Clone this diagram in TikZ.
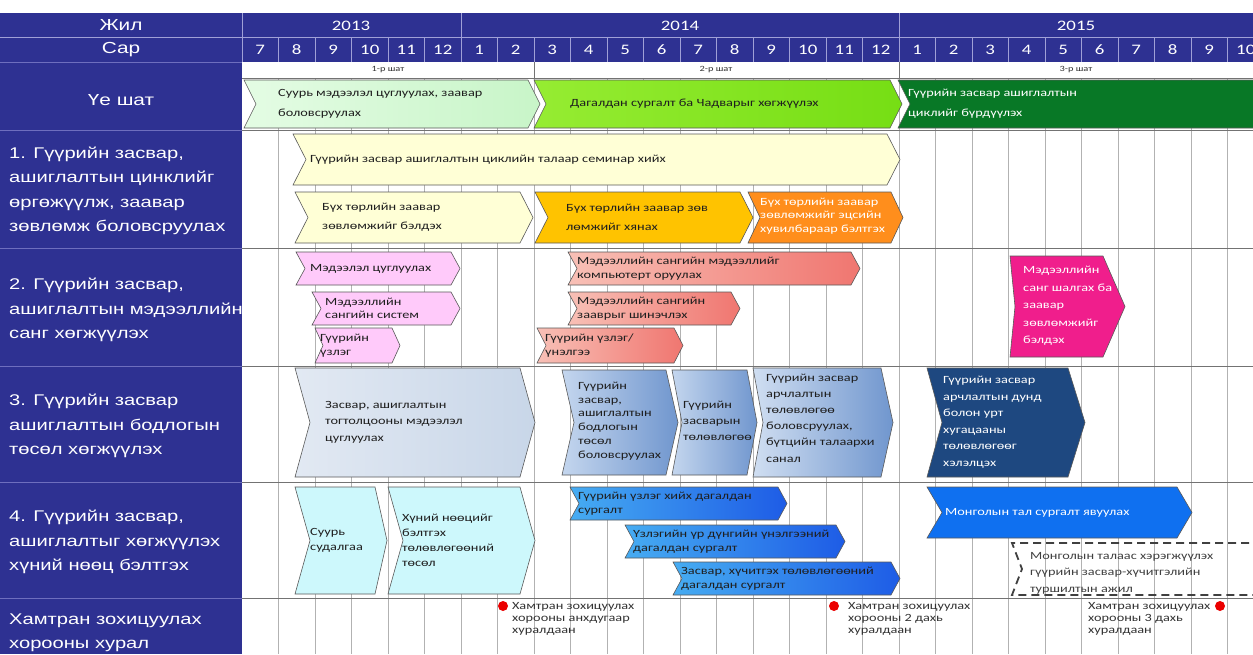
\documentclass[tikz,border=0pt]{standalone}
\usepackage{fontspec}
\setmainfont[FakeStretch=1.3]{Carlito}
\newfontfamily\ari[FakeStretch=1.3]{Liberation Sans}
\definecolor{hb}{RGB}{46,49,146}
\definecolor{hline}{RGB}{160,160,215}
\definecolor{lline}{RGB}{110,110,190}
\definecolor{lgA}{RGB}{228,252,228}
\definecolor{lgB}{RGB}{200,245,200}
\definecolor{bgA}{RGB}{150,236,50}
\definecolor{bgB}{RGB}{118,222,20}
\definecolor{dgr}{RGB}{8,120,38}
\definecolor{pyel}{RGB}{255,255,214}
\definecolor{gold}{RGB}{255,195,0}
\definecolor{orng}{RGB}{255,142,28}
\definecolor{pnk}{RGB}{255,202,250}
\definecolor{slA}{RGB}{248,192,182}
\definecolor{slB}{RGB}{240,118,112}
\definecolor{mag}{RGB}{240,30,140}
\definecolor{lbA}{RGB}{226,233,243}
\definecolor{lbB}{RGB}{200,214,232}
\definecolor{mbA}{RGB}{196,214,238}
\definecolor{mbB}{RGB}{112,150,206}
\definecolor{navy}{RGB}{30,72,128}
\definecolor{cyn}{RGB}{205,248,252}
\definecolor{buA}{RGB}{70,172,242}
\definecolor{buB}{RGB}{30,92,230}
\definecolor{bsol}{RGB}{15,112,240}
\newcommand\chv[7]{\path[#7] (#1,#3) -- ({#2-#6},#3) -- (#2,{(#3+#4)/2}) -- ({#2-#6},#4) -- (#1,#4) -- ({#1+#5},{(#3+#4)/2}) -- cycle;}
\newcommand\ls[1]{\fontsize{11}{#1}\selectfont}
\begin{document}
\begin{tikzpicture}[x=1pt,y=-1pt,
 chb/.style={draw=black!65,line width=0.6pt},
 tx/.style={anchor=west,align=left,inner sep=0pt,text=black!88,font=\ls{13.5}},
 txw/.style={tx,text=white},
 lab/.style={anchor=west,align=left,inner sep=0pt,text=white,font=\ari\fontsize{15.5}{24.5}\selectfont},
 hd/.style={inner sep=0pt,text=white,font=\ari\fontsize{16}{18}\selectfont},
 mon/.style={inner sep=0pt,text=white,font=\fontsize{14.5}{16}\selectfont},
 stg/.style={inner sep=0pt,text=black!80,font=\fontsize{8}{9}\selectfont},
 gl/.style={draw=black!30,line width=0.5pt},
 rl/.style={draw=black!55,line width=0.8pt},
 hl/.style={draw=hline,line width=0.8pt},
 ll/.style={draw=lline,line width=1pt},
 dot/.style={circle,fill=red!92!black,inner sep=0pt,minimum size=10pt},
 note/.style={anchor=north west,align=left,inner sep=0pt,text=black!80,font=\fontsize{11}{11.8}\selectfont},
 dsh/.style={draw=black!75,line width=1.8pt,dash pattern=on 8pt off 5pt}]
\clip (0,0) rectangle (1253,654);
\fill[white] (0,0) rectangle (1253,654);
% header and left column
\fill[hb] (0,13) rectangle (242,654);
\fill[hb] (242,13) rectangle (1253,62);
\draw[hl] (0,37) -- (1253,37);
\foreach \m in {0,...,28} \draw[hl] ({242+36.5*\m},37) -- ({242+36.5*\m},62);
\draw[hl] (242,13) -- (242,62);
\draw[hl] (461,13) -- (461,62);
\draw[hl] (899,13) -- (899,62);
\foreach \yy in {62,130,248,366,482,598} \draw[ll] (0,\yy) -- (242,\yy);
% body grid
\foreach \m in {1,...,28} \draw[gl] ({242+36.5*\m},78) -- ({242+36.5*\m},654);
\foreach \yy in {78,130,248,366,482,598} \draw[rl] (242,\yy) -- (1253,\yy);
\draw[rl] (534,62) -- (534,78);
\draw[rl] (899,62) -- (899,78);
% header texts
\node[hd] (hj) at (121,25) {Жил};
\node[hd] (hs) at (121,49.5) {Сар};
\node[mon] (y13) at (351,25.5) {2013};
\node[mon] (y14) at (680,25.5) {2014};
\node[mon] (y15) at (1076,25.5) {2015};
\foreach \t [count=\i from 0] in {7,8,9,10,11,12,1,2,3,4,5,6,7,8,9,10,11,12,1,2,3,4,5,6,7,8,9,10}
  \node[mon] (m\i) at ({242+36.5*\i+18.25},50) {\t};
\node[stg] (s1) at (388,70) {1-р шат};
\node[stg] (s2) at (716,70) {2-р шат};
\node[stg] (s3) at (1076,70) {3-р шат};
% left labels
\node[hd] (l0) at (121,100) {Үе шат};
\node[lab] (l1) at (9,191) {1. Гүүрийн засвар,\\ашиглалтын цинклийг\\өргөжүүлж, заавар\\зөвлөмж боловсруулах};
\node[lab] (l2) at (9,310) {2. Гүүрийн засвар,\\ашиглалтын мэдээллийн\\санг хөгжүүлэх};
\node[lab] (l3) at (9,426) {3. Гүүрийн засвар\\ашиглалтын бодлогын\\төсөл хөгжүүлэх};
\node[lab] (l4) at (9,542) {4. Гүүрийн засвар,\\ашиглалтыг хөгжүүлэх\\хүний нөөц бэлтгэх};
\node[lab] (l5) at (9,633) {Хамтран зохицуулах\\хорооны хурал};
% stages
\chv{244}{540}{80}{128}{12}{12}{chb,left color=lgA,right color=lgB}
\node[tx,font=\ls{20}] (g1) at (278,104) {Суурь мэдээлэл цуглуулах, заавар\\боловсруулах};
\chv{534}{902}{80}{128}{12}{12}{chb,left color=bgA,right color=bgB}
\node[tx] (g2) at (570,104) {Дагалдан сургалт ба Чадварыг хөгжүүлэх};
\chv{898}{1275}{80}{128}{12}{12}{chb,fill=dgr}
\node[txw,font=\ls{20}] (g3) at (908,104) {Гүүрийн засвар ашиглалтын\\циклийг бүрдүүлэх};
% row 1
\chv{293}{900}{134}{185}{13}{13}{chb,fill=pyel}
\node[tx] (a1) at (310,160) {Гүүрийн засвар ашиглалтын циклийн талаар семинар хийх};
\chv{295}{533}{192}{243}{13}{13}{chb,fill=pyel}
\node[tx,font=\ls{19}] (a2) at (322,217) {Бүх төрлийн заавар\\зөвлөмжийг бэлдэх};
\chv{535}{753}{192}{243}{13}{13}{chb,fill=gold}
\node[tx,font=\ls{19}] (a3) at (566,217) {Бүх төрлийн заавар зөв\\лөмжийг хянах};
\chv{748}{903}{192}{243}{12}{12}{chb,fill=orng}
\node[txw] (a4) at (760,216) {Бүх төрлийн заавар\\зөвлөмжийг эцсийн\\хувилбараар бэлтгэх};
% row 2
\chv{296}{460}{252}{285}{9}{9}{chb,fill=pnk}
\node[tx] (b1) at (310,268.5) {Мэдээлэл цуглуулах};
\chv{312}{460}{292}{325}{9}{9}{chb,fill=pnk}
\node[tx] (b2) at (325,308.5) {Мэдээллийн\\сангийн систем};
\chv{315}{400}{328}{363}{8}{8}{chb,fill=pnk}
\node[tx] (b3) at (320,345.5) {Гүүрийн\\үзлэг};
\chv{568}{860}{252}{285}{9}{9}{chb,left color=slA,right color=slB}
\node[tx] (b4) at (577,268.5) {Мэдээллийн сангийн мэдээллийг\\компьютерт оруулах};
\chv{568}{740}{292}{325}{9}{9}{chb,left color=slA,right color=slB}
\node[tx] (b5) at (577,308.5) {Мэдээллийн сангийн\\зааврыг шинэчлэх};
\chv{537}{683}{328}{363}{9}{9}{chb,left color=slA,right color=slB}
\node[tx] (b6) at (545,345.5) {Гүүрийн үзлэг/\\үнэлгээ};
\chv{1010}{1125}{256}{357}{5}{22}{chb,fill=mag}
\node[txw,font=\ls{17.5}] (b7) at (1023,306) {Мэдээллийн\\санг шалгах ба\\заавар\\зөвлөмжийг\\бэлдэх};
% row 3
\chv{295}{535}{368}{477}{15}{15}{chb,left color=lbA,right color=lbB}
\node[tx,font=\ls{16.5}] (c1) at (325,422) {Засвар, ашиглалтын\\тогтолцооны мэдээлэл\\цуглуулах};
\chv{562}{678}{370}{475}{12}{12}{chb,left color=mbA,right color=mbB}
\node[tx,font=\ls{13.8}] (c2) at (578,421) {Гүүрийн\\засвар,\\ашиглалтын\\бодлогын\\төсөл\\боловсруулах};
\chv{672}{757}{370}{475}{10}{10}{chb,left color=mbA,right color=mbB}
\node[tx,font=\ls{16}] (c3) at (683,421) {Гүүрийн\\засварын\\төлөвлөгөө};
\chv{753}{893}{368}{477}{10}{12}{chb,left color=mbA!80!white,right color=mbB}
\node[tx,font=\ls{16.2}] (c4) at (766,418) {Гүүрийн засвар\\арчлалтын\\төлөвлөгөө\\боловсруулах,\\бүтцийн талаархи\\санал};
\chv{927}{1085}{368}{477}{15}{17}{chb,fill=navy}
\node[txw,font=\ls{16.5}] (c5) at (943,422) {Гүүрийн засвар\\арчлалтын дунд\\болон урт\\хугацааны\\төлөвлөгөөг\\хэлэлцэх};
% row 4
\chv{295}{387}{487}{594}{15}{12}{chb,fill=cyn}
\node[tx,font=\ls{15}] (e1) at (310,540) {Суурь\\судалгаа};
\chv{388}{535}{487}{594}{15}{15}{chb,fill=cyn}
\node[tx,font=\ls{15}] (e2) at (402,540) {Хүний нөөцийг\\бэлтгэх\\төлөвлөгөөний\\төсөл};
\chv{570}{787}{487}{520}{9}{9}{chb,left color=buA,right color=buB}
\node[tx] (e3) at (578,503.5) {Гүүрийн үзлэг хийх дагалдан\\сургалт};
\chv{625}{845}{525}{558}{9}{9}{chb,left color=buA,right color=buB}
\node[tx] (e4) at (633,541.5) {Үзлэгийн үр дүнгийн үнэлгээний\\дагалдан сургалт};
\chv{673}{900}{562}{595}{9}{9}{chb,left color=buA,right color=buB}
\node[tx] (e5) at (681,578.5) {Засвар, хүчитгэх төлөвлөгөөний\\дагалдан сургалт};
\chv{927}{1192}{487}{538}{15}{15}{chb,fill=bsol}
\node[txw] (e6) at (945,512.5) {Монголын тал сургалт явуулах};
\draw[dsh] (1275,543) -- (1012,543) -- (1022,569) -- (1012,595) -- (1275,595);
\node[tx,font=\ls{16.5},text=black!75] (e7) at (1030,573) {Монголын талаас хэрэгжүүлэх\\гүүрийн засвар-хүчитгэлийн\\туршилтын ажил};
% row 5 meetings
\node[dot] (d1) at (503,606) {};
\node[note] (n1) at (512,602.5) {Хамтран зохицуулах\\хорооны анхдугаар\\хуралдаан};
\node[dot] (d2) at (834,606) {};
\node[note] (n2) at (848,602.5) {Хамтран зохицуулах\\хорооны 2 дахь\\хуралдаан};
\node[dot] (d3) at (1220,606) {};
\node[note] (n3) at (1088,602.5) {Хамтран зохицуулах\\хорооны 3 дахь\\хуралдаан};
\end{tikzpicture}
\end{document}
